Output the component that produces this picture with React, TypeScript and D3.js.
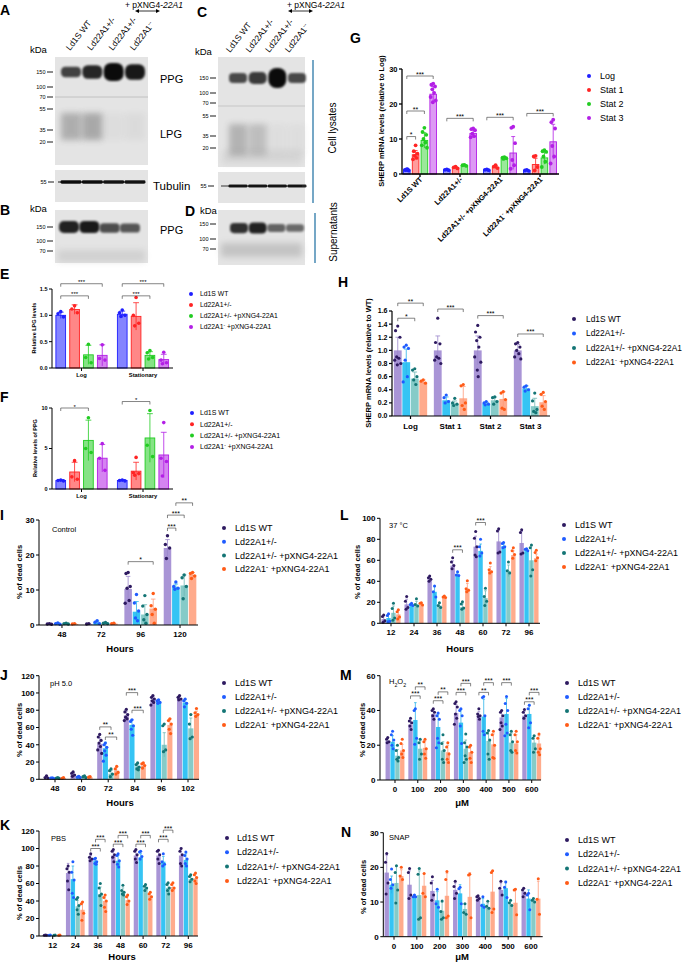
import React from 'react';
import * as d3 from 'd3';

const FONT = '"Liberation Sans", Arial, Helvetica, sans-serif';

// ---------- labels ----------
const strains = ['Ld1S WT', 'Ld22A1+/-', 'Ld22A1+/- +pXNG4-22A1', 'Ld22A1^- +pXNG4-22A1'];
const stages = ['Log', 'Stat 1', 'Stat 2', 'Stat 3'];
const growth = ['Log', 'Stationary'];
const laneNames = ['Ld1S WT', 'Ld22A1+/-', 'Ld22A1+/-', 'Ld22A1^-^-'];

// ---------- colours ----------
const gfCol = ['#1f1fff', '#ff2424', '#22cc22', '#b31fe6'];
const hnDot = ['#2e1a60', '#1f5cff', '#147575', '#ff5b17'];
const hnFill = ['#a995d6', '#36c4f4', '#86cbc8', '#ffab8c'];
const hnErr = ['#9a86cc', '#2fb5ea', '#6fb9b6', '#ff9a78'];

// each bar: [mean, sd, ...points]
type Bar = number[];
// [group, seriesA, seriesB, value, label]
type Bracket = [number, number, number, number, string];

// ---------- blots ----------
const kdaLys = [150, 100, 70, 55, 35, 20];
const kdaSup = [150, 100, 70];
const ppgA = [0.6, 0.8, 1, 0.9];
const lpgA = [0.5, 0.55, 0.06, 0.08];
const tubA = [0.9, 0.9, 0.85, 0.85];
const ppgB = [0.85, 0.9, 0.55, 0.5];
const ppgC = [0.55, 0.65, 1, 0.55];
const lpgC = [0.45, 0.35, 0.05, 0.05];
const tubC = [0.85, 0.85, 0.85, 0.85];
const ppgD = [0.75, 0.85, 0.4, 0.35];

// ---------- G ----------
const gData: Bar[][] = [
  [[1.2, 0.2, 1.4, 1.2, 1.0, 1.1, 1.3], [5.5, 1.2, 8.2, 6.5, 5.8, 5.2, 4.6, 4.2], [9.6, 2.2, 13.2, 12.0, 11.2, 10.0, 9.0, 8.2, 7.5], [22.8, 2.2, 25.8, 25.5, 25.0, 24.2, 23.2, 22.0, 21.0, 20.5]],
  [[1.2, 0.2, 1.3, 1.2, 1.1], [1.8, 0.3, 2.1, 1.9, 1.6], [2.4, 0.2, 2.6, 2.5, 2.3], [11.6, 1.2, 13.0, 12.8, 12.5, 11.5, 10.8, 10.5]],
  [[1.2, 0.2, 1.3, 1.2, 1.1], [1.9, 0.4, 2.5, 2.1, 1.7], [4.5, 0.3, 4.8, 4.7, 4.5, 4.3], [6.0, 4.7, 13.5, 13.2, 8.8, 4.0, 2.5, 1.5]],
  [[1.0, 0.2, 1.2, 1.0, 0.9], [2.7, 1.8, 5.2, 5.0, 2.0, 1.0], [4.6, 1.8, 6.8, 6.5, 6.3, 5.0, 3.5, 2.0], [9.2, 5.0, 15.5, 14.8, 13.0, 8.0, 5.0, 3.0]],
];
const gBr: Bracket[] = [[0, 0, 1, 10.7, '*'], [0, 0, 2, 18, '**'], [0, 0, 3, 28, '***'], [1, 0, 3, 15.9, '***'], [2, 0, 3, 16.2, '***'], [3, 0, 3, 17.3, '***']];

// ---------- E ----------
const eData: Bar[][] = [
  [[1.0, 0.06, 1.07, 1.03, 0.97], [1.11, 0.09, 1.18, 1.12, 1.05], [0.25, 0.18, 0.45, 0.2, 0.1], [0.24, 0.2, 0.44, 0.18, 0.15]],
  [[1.02, 0.06, 1.1, 1.05, 1.0, 0.98], [0.98, 0.26, 1.34, 1.0, 0.85, 0.8], [0.24, 0.07, 0.33, 0.29, 0.2, 0.17], [0.16, 0.1, 0.3, 0.15, 0.1, 0.08]],
];
const eBr: Bracket[] = [[0, 0, 2, 1.37, '***'], [0, 0, 3, 1.6, '***'], [1, 0, 2, 1.37, '***'], [1, 0, 3, 1.6, '***']];

// ---------- F ----------
const fData: Bar[][] = [
  [[1.05, 0.1, 1.1, 1.05, 1.0], [2.1, 1.2, 3.5, 1.5, 1.2], [6.0, 2.5, 8.8, 5.0, 4.5], [3.8, 1.7, 5.6, 3.8, 2.3]],
  [[1.05, 0.1, 1.1, 1.05, 1.0], [2.2, 1.1, 3.9, 2.0, 1.9, 1.7], [6.3, 3.0, 9.7, 5.4, 4.0], [4.2, 2.8, 8.2, 3.8, 3.4, 1.6]],
];
const fBr: Bracket[] = [[0, 0, 2, 10.0, '*'], [1, 0, 2, 10.8, '*']];

// ---------- H ----------
const hTicks = [0, 0.2, 0.4, 0.6, 0.8, 1.0, 1.2, 1.4, 1.6];
const hData: Bar[][] = [
  [[1.0, 0.2, 1.37, 1.3, 1.2, 0.9, 0.88, 0.85, 0.8, 0.78], [0.82, 0.2, 1.08, 1.05, 1.03, 0.85, 0.6, 0.52], [0.57, 0.1, 0.72, 0.7, 0.6, 0.55, 0.48], [0.52, 0.03, 0.55, 0.53, 0.5]],
  [[1.0, 0.22, 1.49, 1.12, 1.1, 0.9, 0.88, 0.85, 0.8], [0.24, 0.05, 0.32, 0.28, 0.22, 0.2], [0.19, 0.04, 0.27, 0.2, 0.18, 0.16], [0.27, 0.18, 0.48, 0.46, 0.2, 0.16, 0.1]],
  [[1.0, 0.22, 1.38, 1.28, 1.2, 1.15, 1.05, 0.9, 0.82, 0.7, 0.6], [0.19, 0.02, 0.22, 0.2, 0.18, 0.17], [0.24, 0.05, 0.29, 0.28, 0.22, 0.18], [0.26, 0.11, 0.37, 0.35, 0.25, 0.12, 0.1]],
  [[1.0, 0.09, 1.12, 1.1, 1.05, 1.0, 0.95, 0.9, 0.87], [0.42, 0.04, 0.46, 0.44, 0.4, 0.38], [0.15, 0.12, 0.35, 0.23, 0.1, 0.07, 0.05], [0.21, 0.1, 0.36, 0.33, 0.22, 0.15, 0.1]],
];
const hBr: Bracket[] = [[0, 0, 2, 1.49, '*'], [0, 0, 3, 1.72, '**'], [1, 0, 3, 1.63, '***'], [2, 0, 3, 1.53, '***'], [3, 0, 3, 1.25, '***']];

// ---------- I ----------
const iGroups = ['48', '72', '96', '120'];
const iData: Bar[][] = [
  [[0.3, 0.1, 0.4, 0.3, 0.2], [0.4, 0.2, 0.6, 0.4, 0.2], [0.4, 0.1, 0.5, 0.4, 0.3], [0.3, 0.1, 0.4, 0.3]],
  [[0.3, 0.1, 0.4, 0.3], [0.7, 0.4, 1.2, 0.8, 0.4], [0.5, 0.2, 0.7, 0.5, 0.4], [0.4, 0.1, 0.5, 0.4]],
  [[10.3, 3.6, 15.0, 14.7, 11.0, 10.5, 7.0, 6.2], [3.8, 2.9, 8.7, 6.3, 4.0, 2.0, 1.2], [3.0, 2.8, 8.4, 5.4, 3.0, 1.5, 0.5], [4.7, 2.7, 9.0, 5.5, 4.5, 3.0, 0.5]],
  [[22.0, 2.4, 25.5, 23.0, 22.0, 19.0], [10.8, 0.9, 12.3, 11.0, 10.5, 10.2], [11.3, 3.0, 14.3, 13.5, 11.0, 7.5], [14.3, 0.7, 15.0, 14.7, 14.0, 13.3]],
];
const iBr: Bracket[] = [[2, 0, 3, 18.1, '*'], [3, 0, 1, 27.7, '***'], [3, 0, 2, 31.4, '***'], [3, 1, 3, 34.9, '**']];

// ---------- L ----------
const lGroups = ['12', '24', '36', '48', '60', '72', '96'];
const lData: Bar[][] = [
  [[4.0, 3.5, 8.0, 6.5, 2.5, 1.0], [5.0, 3.8, 9.0, 7.5, 2.0, 1.5], [10.0, 6.5, 19.0, 14.0, 5.0, 3.0], [8.5, 4.0, 13.0, 11.0, 6.0, 4.0]],
  [[18.0, 5.0, 25.5, 21.0, 15.0, 13.5], [17.5, 1.0, 19.0, 18.0, 17.0], [18.0, 3.0, 23.5, 18.0, 16.5], [18.0, 1.2, 19.5, 19.0, 17.5]],
  [[42.0, 2.0, 45.0, 43.5, 42.0, 40.0], [30.0, 5.0, 35.5, 30.0, 25.0], [17.0, 2.5, 19.5, 17.0, 15.0], [25.0, 1.0, 26.0, 25.0, 24.5]],
  [[55.0, 4.5, 62.5, 58.5, 55.0, 52.0], [46.0, 2.0, 49.0, 46.0, 45.5], [15.5, 3.0, 20.5, 18.5, 14.5, 13.5], [33.0, 5.0, 40.5, 33.0, 31.5, 30.0]],
  [[73.0, 10.0, 87.5, 81.0, 73.0, 65.0, 63.5], [69.0, 6.5, 80.0, 73.0, 67.0, 64.0], [24.0, 7.0, 33.5, 25.5, 21.0, 17.0], [50.0, 4.0, 57.5, 51.0, 49.0, 48.0]],
  [[78.0, 10.5, 90.0, 88.0, 68.0, 67.0], [73.5, 2.0, 77.0, 76.0, 73.0, 72.0], [50.0, 5.5, 58.5, 50.0, 48.0], [65.0, 4.0, 72.0, 69.0, 65.5, 62.0]],
  [[76.5, 11.0, 89.0, 86.5, 67.0, 66.0], [70.0, 1.0, 71.0, 70.5, 69.0], [60.0, 14.0, 74.5, 72.0, 51.0, 45.0], [62.0, 4.0, 69.5, 67.5, 62.5, 59.5]],
];
const lBr: Bracket[] = [[3, 0, 2, 70, '***'], [4, 0, 2, 96, '***']];

// ---------- J ----------
const jGroups = ['48', '60', '72', '84', '96', '102'];
const jData: Bar[][] = [
  [[2.5, 1.2, 4.0, 2.0, 1.5], [1.5, 0.3, 1.8, 1.5, 1.2], [1.5, 0.4, 2.0, 1.5, 1.0], [1.5, 0.4, 2.0, 1.2]],
  [[6.0, 2.0, 8.5, 7.0, 5.0, 3.5], [3.0, 0.6, 3.5, 2.5, 2.0], [3.0, 0.8, 4.0, 3.0, 2.0], [2.5, 0.4, 3.0, 2.5]],
  [[41.0, 7.0, 52.0, 49.0, 45.0, 42.0, 38.0, 34.0, 30.0], [36.0, 7.0, 42.0, 40.0, 37.0, 33.0, 28.0, 21.0], [6.5, 4.0, 12.0, 10.0, 6.0, 3.0], [10.0, 4.0, 15.0, 12.0, 8.0, 6.0]],
  [[74.0, 5.0, 81.0, 78.0, 75.0, 72.0, 70.0, 68.0], [63.0, 6.0, 69.0, 67.0, 62.0, 58.0, 51.0], [15.0, 3.0, 19.0, 17.0, 14.0, 12.0, 11.0], [16.0, 2.5, 19.0, 18.0, 16.0, 13.0]],
  [[92.0, 3.5, 97.0, 95.0, 93.0, 91.0, 89.0, 86.0], [90.0, 2.0, 92.0, 91.0, 89.0, 88.0], [40.0, 14.0, 64.0, 62.0, 34.0, 32.0], [63.0, 7.0, 70.0, 68.0, 64.0, 58.0, 53.0]],
  [[94.0, 2.0, 97.0, 95.0, 93.0, 92.0], [89.0, 3.5, 93.0, 91.0, 88.0, 84.0], [59.0, 12.0, 75.0, 64.0, 49.0, 47.0], [75.0, 4.0, 82.0, 77.0, 75.0, 73.0]],
];
const jBr: Bracket[] = [[2, 0, 2, 60.7, '**'], [2, 1, 3, 49, '**'], [3, 0, 2, 100.4, '***'], [3, 1, 3, 80, '***']];

// ---------- M ----------
const uMGroups = ['0', '100', '200', '300', '400', '500', '600'];
const mData: Bar[][] = [
  [[22.5, 1.5, 24.5, 23.5, 22.0, 21.5], [22.0, 3.5, 28.0, 26.0, 23.0, 20.0, 18.0], [14.0, 3.5, 20.0, 17.0, 13.0, 12.0, 11.0], [17.0, 3.5, 23.5, 21.0, 17.0, 15.0, 13.0]],
  [[32.0, 2.5, 35.5, 34.0, 33.0, 31.0, 29.0], [34.5, 10.0, 41.0, 40.0, 24.0, 20.5], [18.0, 4.5, 23.5, 21.5, 15.0, 12.0], [18.5, 4.0, 23.5, 22.0, 18.0, 15.0, 12.5]],
  [[38.0, 2.5, 41.0, 40.0, 39.0, 37.0, 35.0], [30.5, 7.5, 38.5, 37.0, 35.0, 24.0, 21.5, 18.5], [17.0, 5.0, 26.0, 21.0, 17.0, 12.0, 10.0], [16.0, 4.0, 21.5, 19.0, 15.0, 12.0, 10.0]],
  [[38.5, 5.0, 45.0, 44.0, 42.0, 38.0, 35.5, 32.0], [33.0, 7.5, 41.0, 40.0, 37.0, 31.0, 21.0], [18.0, 5.0, 26.5, 21.5, 19.0, 14.0, 12.0, 10.0], [16.0, 3.5, 20.0, 19.0, 16.0, 12.5, 10.0]],
  [[37.0, 2.5, 41.0, 38.0, 37.0, 36.5, 35.0], [36.5, 10.0, 48.0, 47.5, 37.0, 28.0, 26.0], [22.5, 6.0, 28.5, 27.0, 23.0, 15.0, 12.0], [20.5, 6.0, 28.0, 26.0, 20.0, 13.0, 12.5]],
  [[36.0, 4.0, 40.0, 39.0, 37.0, 33.0, 31.0, 29.0], [38.0, 9.0, 48.0, 44.0, 40.0, 32.0, 27.0, 25.5], [21.5, 5.5, 28.0, 26.0, 22.0, 17.0, 16.0], [21.0, 5.0, 28.0, 26.0, 22.0, 17.0, 15.5]],
  [[37.0, 2.5, 40.5, 39.0, 37.0, 35.5], [38.0, 5.5, 43.0, 41.0, 33.0, 30.0], [21.5, 4.0, 25.5, 24.0, 18.0, 16.0], [21.0, 4.5, 26.5, 24.0, 18.0, 16.0, 14.5]],
];
const mBr: Bracket[] = [[1, 0, 2, 48.4, '***'], [1, 1, 3, 53.6, '**'], [2, 0, 2, 45.6, '***'], [2, 1, 3, 50.7, '**'], [3, 0, 2, 50.4, '***'], [3, 1, 3, 55.6, '***'], [4, 0, 2, 50.4, '**'], [4, 1, 3, 56, '***'], [5, 0, 2, 56, '***'], [6, 0, 2, 45, '***'], [6, 1, 3, 50.4, '***']];

// ---------- K ----------
const kGroups = ['12', '24', '36', '48', '60', '72', '96'];
const kData: Bar[][] = [
  [[1.0, 0.2, 1.2, 1.0, 0.8], [1.0, 0.2, 1.2, 1.0], [1.0, 0.2, 1.2, 1.0], [1.0, 0.2, 1.2, 1.0]],
  [[72.0, 11.0, 80.0, 77.0, 73.0, 63.0, 53.0], [65.0, 15.0, 85.0, 73.0, 64.0, 49.0, 44.0], [34.0, 7.0, 44.0, 42.0, 35.0, 30.0, 25.0], [30.0, 9.0, 39.0, 37.0, 26.0, 18.0]],
  [[89.0, 3.0, 94.0, 90.0, 88.0, 86.0], [86.0, 3.0, 89.0, 88.0, 85.0, 83.0, 82.0], [48.0, 8.0, 60.0, 55.0, 48.0, 46.0, 35.0], [40.0, 7.0, 47.0, 44.0, 40.0, 33.0, 28.0]],
  [[92.0, 5.0, 99.0, 97.0, 93.0, 90.0, 85.0], [86.0, 6.0, 94.0, 92.0, 86.0, 82.0, 79.0], [51.0, 4.0, 58.0, 52.0, 50.0, 48.0, 47.0], [41.0, 5.0, 47.0, 45.0, 40.0, 36.0]],
  [[92.0, 6.0, 99.0, 97.0, 93.0, 88.0, 84.0], [90.0, 4.0, 97.0, 96.0, 91.0, 88.0], [55.0, 3.0, 59.0, 57.0, 55.0, 52.0], [46.0, 4.0, 50.0, 48.0, 45.0, 42.0]],
  [[92.0, 6.0, 98.0, 97.0, 93.0, 88.0, 83.0], [85.0, 6.0, 94.0, 85.0, 82.0, 80.0], [55.0, 5.0, 61.0, 59.0, 55.0, 52.0, 48.0], [56.0, 4.0, 61.0, 59.0, 55.0, 52.0]],
  [[92.0, 9.0, 100.0, 97.0, 93.0, 83.0, 80.0], [87.0, 7.0, 96.0, 92.0, 88.0, 83.0, 80.0], [65.0, 3.0, 70.0, 68.0, 65.0, 62.0], [66.0, 5.0, 72.0, 70.0, 67.0, 63.0, 60.0]],
];
const kBr: Bracket[] = [[2, 0, 2, 100, '***'], [2, 1, 3, 110.5, '***'], [3, 0, 2, 105, '***'], [3, 1, 3, 115, '***'], [4, 0, 2, 105, '***'], [4, 1, 3, 115, '***'], [5, 0, 2, 110.5, '***'], [5, 1, 3, 121, '***']];

// ---------- N ----------
const nData: Bar[][] = [
  [[18.5, 5.0, 24.0, 21.5, 15.5, 12.3], [15.0, 2.5, 19.5, 16.5, 15.0, 14.0], [15.5, 5.0, 20.5, 18.5, 13.5, 9.7], [17.5, 1.8, 20.0, 17.5, 16.5]],
  [[15.0, 4.0, 19.7, 18.5, 12.0, 11.0], [11.7, 0.4, 12.0, 11.5, 11.5], [12.0, 7.0, 19.7, 18.0, 5.5, 5.0], [14.7, 3.5, 18.2, 12.5, 11.5]],
  [[13.2, 3.0, 17.3, 15.5, 12.0, 10.5], [10.5, 2.5, 13.7, 9.5, 8.5], [7.5, 2.5, 10.3, 7.3, 5.5, 5.0], [11.8, 6.5, 18.8, 16.5, 6.0, 5.5]],
  [[13.5, 2.0, 16.0, 14.5, 12.5, 11.0], [12.5, 2.5, 14.3, 13.8, 9.5], [8.0, 1.5, 9.5, 7.0, 6.5], [11.5, 7.0, 18.0, 17.8, 5.5]],
  [[11.0, 0.5, 11.8, 11.5, 11.0, 10.5], [9.5, 1.5, 11.5, 9.0, 8.5], [8.5, 1.0, 10.2, 8.8, 8.2], [13.0, 6.0, 19.0, 18.5, 8.0, 7.0]],
  [[13.5, 2.0, 16.0, 14.0, 12.0], [14.0, 2.0, 15.8, 14.3, 11.3], [9.5, 0.8, 10.5, 9.8, 9.0], [9.8, 4.0, 13.7, 13.5, 6.3]],
  [[13.0, 1.0, 14.0, 13.5, 12.5, 11.5], [11.0, 2.5, 12.5, 12.0, 7.8], [10.5, 0.6, 11.0, 10.5, 10.0], [11.0, 5.0, 16.7, 10.8, 6.5]],
];

// ---------- helpers ----------
function rich(s: string): React.ReactNode[] {
  return s.split(/([\^_].)/).filter((p) => p !== '').map((p, k) =>
    p.length === 2 && (p[0] === '^' || p[0] === '_')
      ? <tspan key={k} baselineShift={p[0] === '^' ? 'super' : 'sub'} fontSize="70%">{p[1]}</tspan>
      : <tspan key={k}>{p}</tspan>);
}

const JIT = [0, -1, 1, -0.5, 0.5, -1.4, 1.4, -0.2, 0.2, -0.8, 0.8];

interface Legend { x: number; tx: number; y: number; step: number; font: number; labels: string[]; colors: string[]; r?: number }

interface PanelProps {
  ax: [number, number];
  band: [number, number];
  yPix: [number, number];
  domain: [number, number];
  ticks: number[];
  fmt: (v: number) => string;
  groups: string[];
  data: Bar[][];
  fills: string[];
  dots: string[];
  errs: string[];
  strokes?: string[];
  fillOpacity?: number;
  brackets?: Bracket[];
  gPad: number;
  iPad: number;
  dotR: number;
  tickFont: number;
  catFont: number;
  catDy: number;
  rotate?: boolean;
  sigFont: number;
  yTitle: string;
  yTitlePos: [number, number];
  yTitleFont: number;
  xTitle?: string;
  xTitlePos?: [number, number];
  note?: string;
  notePos?: [number, number];
  legend: Legend;
  axisW?: number;
}

function BarPanel(p: PanelProps) {
  const y = d3.scaleLinear().domain(p.domain).range(p.yPix);
  const gx = d3.scaleBand<number>().domain(d3.range(p.groups.length)).range(p.band)
    .paddingInner(p.gPad).paddingOuter(p.gPad / 2);
  const sx = d3.scaleBand<number>().domain(d3.range(p.data[0].length)).range([0, gx.bandwidth()])
    .paddingInner(p.iPad).paddingOuter(p.iPad / 2);
  const bw = sx.bandwidth();
  const cx = (g: number, s: number) => (gx(g) ?? 0) + (sx(s) ?? 0) + bw / 2;
  const y0 = y(p.domain[0]);
  const top = y(p.ticks[p.ticks.length - 1]);
  const aw = p.axisW ?? 1;
  const lg = p.legend;
  return (
    <g fontFamily={FONT}>
      {p.data.map((grp, g) => grp.map((b, s) => {
        const c = cx(g, s);
        return <rect key={`b${g}-${s}`} x={c - bw / 2} y={y(b[0])} width={bw} height={y0 - y(b[0])}
          fill={p.fills[s]} fillOpacity={p.fillOpacity ?? 1}
          stroke={p.strokes ? p.strokes[s] : 'none'} strokeWidth={0.9} />;
      }))}
      {p.data.map((grp, g) => grp.map((b, s) => {
        const [m, sd, ...pts] = b;
        const c = cx(g, s);
        const lo = Math.max(p.domain[0], m - sd);
        return (
          <g key={`e${g}-${s}`}>
            <line x1={c} x2={c} y1={y(lo)} y2={y(m + sd)} stroke={p.errs[s]} strokeWidth={0.8} />
            <line x1={c - bw * 0.3} x2={c + bw * 0.3} y1={y(m + sd)} y2={y(m + sd)} stroke={p.errs[s]} strokeWidth={0.8} />
            {pts.map((v, k) => (
              <circle key={k} cx={c + JIT[k % JIT.length] * bw * 0.28} cy={y(v)} r={p.dotR} fill={p.dots[s]} />
            ))}
          </g>
        );
      }))}
      {/* axes */}
      <line x1={p.ax[0]} x2={p.ax[0]} y1={y0} y2={top} stroke="#000" strokeWidth={aw} />
      {p.ticks.map((t) => (
        <g key={t}>
          <line x1={p.ax[0] - 3} x2={p.ax[0]} y1={y(t)} y2={y(t)} stroke="#000" strokeWidth={aw} />
          <text x={p.ax[0] - 4.5} y={y(t)} dy="0.35em" textAnchor="end" fontSize={p.tickFont} fontWeight="bold">{p.fmt(t)}</text>
        </g>
      ))}
      <line x1={p.ax[0]} x2={p.ax[1]} y1={y0} y2={y0} stroke="#000" strokeWidth={aw} />
      {p.groups.map((name, g) => {
        const c = (gx(g) ?? 0) + gx.bandwidth() / 2;
        return (
          <g key={name + g}>
            <line x1={c} x2={c} y1={y0} y2={y0 + 3} stroke="#000" strokeWidth={aw} />
            {p.rotate
              ? <text transform={`translate(${c + 3},${y0 + 6}) rotate(-45)`} textAnchor="end" fontSize={p.catFont} fontWeight="bold">{rich(name)}</text>
              : <text x={c} y={y0 + p.catDy} textAnchor="middle" fontSize={p.catFont} fontWeight="bold">{name}</text>}
          </g>
        );
      })}
      {/* significance */}
      {(p.brackets ?? []).map(([g, a, b, v, lab], k) => {
        const xa = cx(g, a);
        const xb = cx(g, b);
        const yv = y(v);
        return (
          <g key={`s${k}`}>
            <path d={`M${xa},${yv + 3}V${yv}H${xb}V${yv + 3}`} fill="none" stroke="#333" strokeWidth={0.6} />
            <text x={(xa + xb) / 2} y={yv + 0.5} textAnchor="middle" fontSize={p.sigFont}>{lab}</text>
          </g>
        );
      })}
      <text transform={`translate(${p.yTitlePos[0]},${p.yTitlePos[1]}) rotate(-90)`} textAnchor="middle"
        fontSize={p.yTitleFont} fontWeight="bold">{p.yTitle}</text>
      {p.xTitle && p.xTitlePos && (
        <text x={p.xTitlePos[0]} y={p.xTitlePos[1]} textAnchor="middle" fontSize={9.5} fontWeight="bold">{p.xTitle}</text>
      )}
      {p.note && p.notePos && (
        <text x={p.notePos[0]} y={p.notePos[1]} fontSize={7.5}>{rich(p.note)}</text>
      )}
      {lg.labels.map((l, i) => {
        const yy = lg.y + i * lg.step;
        return (
          <g key={`l${i}`}>
            <circle cx={lg.x} cy={yy} r={lg.r ?? 2} fill={lg.colors[i]} />
            <text x={lg.tx} y={yy} dy="0.35em" fontSize={lg.font}>{rich(l)}</text>
          </g>
        );
      })}
    </g>
  );
}

function Band({ cx, cy, w, h, o, blur = 'b1' }: { cx: number; cy: number; w: number; h: number; o: number; blur?: string }) {
  return <rect x={cx - w / 2} y={cy - h / 2} width={w} height={h} rx={h / 2.5} fill="#000" opacity={o} filter={`url(#${blur})`} />;
}

function Markers({ x, kdas, scale }: { x: number; kdas: number[]; scale: (k: number) => number }) {
  return (
    <g>
      {kdas.map((k) => (
        <g key={k}>
          <line x1={x} x2={x + 6} y1={scale(k)} y2={scale(k)} stroke="#000" strokeWidth={0.9} />
          <text x={x - 1.5} y={scale(k)} dy="0.35em" textAnchor="end" fontSize={5.5}>{k}</text>
        </g>
      ))}
    </g>
  );
}

function Arrow({ x1, x2, y }: { x1: number; x2: number; y: number }) {
  return (
    <g stroke="#000" strokeWidth={0.8} fill="#000">
      <line x1={x1 + 2} x2={x2 - 2} y1={y} y2={y} />
      <path d={`M${x1},${y}l4,-2v4z`} stroke="none" />
      <path d={`M${x2},${y}l-4,-2v4z`} stroke="none" />
    </g>
  );
}

function LaneLabels({ xs, y }: { xs: number[]; y: number }) {
  return (
    <g>
      {laneNames.map((n, i) => (
        <text key={i} transform={`translate(${xs[i]},${y}) rotate(-52)`} fontSize={8.5}>{rich(n)}</text>
      ))}
    </g>
  );
}

function Plasmid({ x, ax }: { x: number; ax: number }) {
  return (
    <g>
      <text x={x} y={8} fontSize={8.5}>+ pXNG4-<tspan fontStyle="italic">22A1</tspan></text>
      <Arrow x1={ax} x2={ax + 25} y={11} />
    </g>
  );
}

const Letter = ({ x, y, t }: { x: number; y: number; t: string }) => (
  <text x={x} y={y} fontSize={14} fontWeight="bold">{t}</text>
);

export default function App() {
  const lanes = d3.range(4);
  const laneA = d3.scalePoint<number>().domain(lanes).range([71, 135]);
  const laneB = d3.scalePoint<number>().domain(lanes).range([69, 130]);
  const laneC = d3.scalePoint<number>().domain(lanes).range([238, 297]);
  const laneD = d3.scalePoint<number>().domain(lanes).range([239, 295]);
  const kA = d3.scaleLinear().domain(kdaLys).range([72, 87, 97, 109, 130, 142]);
  const kB = d3.scaleLinear().domain(kdaSup).range([227, 241, 251]);
  const kC = d3.scaleLinear().domain(kdaLys).range([78, 93, 103, 116, 136, 148]);
  const kD = d3.scaleLinear().domain(kdaSup).range([224, 239, 249]);
  const tubAy = (k: number) => 182 + (k - 55);
  const tubCy = (k: number) => 186 + (k - 55);
  const la = (i: number) => laneA(i) ?? 0;
  const lb = (i: number) => laneB(i) ?? 0;
  const lc = (i: number) => laneC(i) ?? 0;
  const ld = (i: number) => laneD(i) ?? 0;
  const f1 = d3.format('.1f');
  const str = (v: number) => String(v);
  const hn = { fills: hnFill, dots: hnDot, errs: hnErr, gPad: 0.15, iPad: 0.1, dotR: 1.7, tickFont: 8, catFont: 8, catDy: 12, sigFont: 7, yTitle: '% of dead cells', yTitleFont: 7.5 };
  const hnLeg = { labels: strains, colors: hnDot, font: 9 };
  const t120 = [0, 20, 40, 60, 80, 100, 120];

  return (
    <div style={{ position: 'absolute', left: 0, top: 0 }}>
      <svg width={685} height={964} viewBox="0 0 685 964" style={{ display: 'block', background: '#fff' }} fontFamily={FONT}>
        <defs>
          <filter id="b1" x="-50%" y="-50%" width="200%" height="200%"><feGaussianBlur stdDeviation="1.3" /></filter>
          <filter id="b0" x="-50%" y="-50%" width="200%" height="200%"><feGaussianBlur stdDeviation="0.6" /></filter>
          <filter id="b3" x="-50%" y="-50%" width="200%" height="200%"><feGaussianBlur stdDeviation="3" /></filter>
        </defs>
        <rect width={685} height={964} fill="#fff" />

        {/* ---------- A / B ---------- */}
        <Letter x={0} y={15} t="A" />
        <Plasmid x={125} ax={135} />
        <LaneLabels xs={lanes.map((i) => la(i) - 1)} y={51} />
        <text x={30} y={53} fontSize={9.5}>kDa</text>
        <rect x={55} y={57} width={93} height={108} fill="#e4e4e4" />
        <line x1={55} x2={148} y1={kA(70)} y2={kA(70)} stroke="#aaa" strokeWidth={1} opacity={0.6} />
        {lanes.map((i) => (
          <rect key={`la${i}`} x={la(i) - 10} y={kA(55) + 4} width={20} height={kA(20) - kA(55) - 6}
            fill="#333" opacity={lpgA[i] * 0.6} filter="url(#b3)" />
        ))}
        {lanes.map((i) => <Band key={`pa${i}`} cx={la(i)} cy={kA(150)} w={20} h={6 + 12 * ppgA[i] ** 2} o={0.35 + 0.6 * ppgA[i]} />)}
        <Markers x={47} kdas={kdaLys} scale={kA} />
        <text x={160} y={83} fontSize={11}>PPG</text>
        <text x={160} y={138} fontSize={11}>LPG</text>
        <rect x={55} y={170} width={93} height={32} fill="#e4e4e4" />
        <line x1={58} x2={145} y1={tubAy(55)} y2={tubAy(55)} stroke="#222" strokeWidth={1.5} opacity={0.7} />
        {lanes.map((i) => <Band key={`ta${i}`} cx={la(i)} cy={tubAy(55)} w={21} h={3.5} o={tubA[i]} blur="b0" />)}
        <Markers x={48} kdas={[55]} scale={tubAy} />
        <text x={153} y={190} fontSize={11.5}>Tubulin</text>

        <Letter x={0} y={215} t="B" />
        <text x={30} y={212} fontSize={9.5}>kDa</text>
        <rect x={55} y={210} width={93} height={53} fill="#e4e4e4" />
        <rect x={58} y={250} width={87} height={12} fill="#999" opacity={0.25} filter="url(#b3)" />
        {lanes.map((i) => <Band key={`pb${i}`} cx={lb(i)} cy={kB(150) + (ppgB[i] < 0.7 ? 1 : 0)} w={20} h={5 + 8 * ppgB[i]} o={0.3 + 0.65 * ppgB[i]} />)}
        <Markers x={47} kdas={kdaSup} scale={kB} />
        <text x={160} y={234} fontSize={11}>PPG</text>

        {/* ---------- C / D ---------- */}
        <Letter x={197} y={17} t="C" />
        <Plasmid x={287} ax={288} />
        <LaneLabels xs={lanes.map((i) => lc(i) - 8)} y={53} />
        <text x={195} y={55} fontSize={9.5}>kDa</text>
        <rect x={218} y={57} width={87} height={110} fill="#e4e4e4" />
        <line x1={218} x2={305} y1={kC(70) + 3} y2={kC(70) + 3} stroke="#aaa" strokeWidth={1} opacity={0.5} />
        {lanes.map((i) => (
          <rect key={`lc${i}`} x={lc(i) - 9} y={kC(55) + 8} width={18} height={kC(20) - kC(55)}
            fill="#333" opacity={lpgC[i] * 0.6} filter="url(#b3)" />
        ))}
        <rect x={222} y={150} width={80} height={14} fill="#999" opacity={0.18} filter="url(#b3)" />
        {lanes.map((i) => <Band key={`pc${i}`} cx={lc(i)} cy={kC(150)} w={18} h={6 + 14 * ppgC[i] ** 2} o={0.35 + 0.6 * ppgC[i]} />)}
        <Markers x={210} kdas={kdaLys} scale={kC} />
        <rect x={218} y={172} width={87} height={31} fill="#e4e4e4" />
        <line x1={221} x2={302} y1={tubCy(55)} y2={tubCy(55)} stroke="#222" strokeWidth={1.4} opacity={0.6} />
        {lanes.map((i) => <Band key={`tc${i}`} cx={lc(i)} cy={tubCy(55)} w={19} h={3.2} o={tubC[i]} blur="b0" />)}
        <Markers x={208} kdas={[55]} scale={tubCy} />

        <Letter x={185} y={216} t="D" />
        <text x={200} y={214} fontSize={9.5}>kDa</text>
        <rect x={218} y={210} width={87} height={55} fill="#e4e4e4" />
        <rect x={221} y={243} width={81} height={14} fill="#888" opacity={0.35} filter="url(#b3)" />
        {lanes.map((i) => <Band key={`pd${i}`} cx={ld(i)} cy={kD(150) + 4} w={18} h={5 + 7 * ppgD[i]} o={0.3 + 0.65 * ppgD[i]} />)}
        <Markers x={210} kdas={kdaSup} scale={kD} />

        <line x1={313} x2={313} y1={60} y2={203} stroke="#2b78a8" strokeWidth={1.3} />
        <line x1={315} x2={315} y1={213} y2={263} stroke="#2b78a8" strokeWidth={1.3} />
        <text transform="translate(336,128) rotate(-90)" textAnchor="middle" fontSize={10}>Cell lysates</text>
        <text transform="translate(337,232) rotate(-90)" textAnchor="middle" fontSize={10}>Supernatants</text>

        {/* ---------- G ---------- */}
        <Letter x={350} y={43} t="G" />
        <BarPanel ax={[402, 559]} band={[400, 560]} yPix={[174, 69]} domain={[0, 30]} ticks={[0, 10, 20, 30]} fmt={str}
          groups={strains} data={gData} fills={gfCol} fillOpacity={0.45} strokes={gfCol} dots={gfCol} errs={gfCol}
          brackets={gBr} gPad={0.12} iPad={0.25} dotR={1.9} tickFont={7.5} catFont={7.5} catDy={0} rotate sigFont={7}
          yTitle="SHERP mRNA levels (relative to Log)" yTitlePos={[384, 121]} yTitleFont={7.5} axisW={1.3}
          legend={{ x: 589, tx: 600, y: 76, step: 14, font: 9, labels: stages, colors: gfCol }} />

        {/* ---------- E ---------- */}
        <Letter x={0} y={279} t="E" />
        <BarPanel ax={[52, 173]} band={[50.75, 173.75]} yPix={[368, 289]} domain={[0, 1.5]} ticks={[0, 0.5, 1, 1.5]} fmt={f1}
          groups={growth} data={eData} fills={gfCol} fillOpacity={0.55} strokes={gfCol} dots={gfCol} errs={gfCol}
          brackets={eBr} gPad={0.1} iPad={0.3} dotR={1.8} tickFont={5.5} catFont={5.8} catDy={9} sigFont={6}
          yTitle="Relative LPG levels" yTitlePos={[36, 328]} yTitleFont={5.5}
          legend={{ x: 191, tx: 200, y: 294, step: 11, font: 6.8, labels: strains, colors: gfCol }} />

        {/* ---------- F ---------- */}
        <Letter x={0} y={402} t="F" />
        <BarPanel ax={[52, 173]} band={[50.75, 173.75]} yPix={[489, 408]} domain={[0, 10]} ticks={[0, 5, 10]} fmt={str}
          groups={growth} data={fData} fills={gfCol} fillOpacity={0.55} strokes={gfCol} dots={gfCol} errs={gfCol}
          brackets={fBr} gPad={0.1} iPad={0.3} dotR={1.8} tickFont={5.5} catFont={5.8} catDy={9} sigFont={6}
          yTitle="Relative levels of PPG" yTitlePos={[37, 448]} yTitleFont={5.5}
          legend={{ x: 192, tx: 200, y: 413, step: 11.3, font: 7, labels: strains, colors: gfCol }} />

        {/* ---------- H ---------- */}
        <Letter x={338} y={287} t="H" />
        <BarPanel ax={[392, 550]} band={[390.5, 550.5]} yPix={[416, 311]} domain={[0, 1.6]} ticks={hTicks} fmt={f1}
          groups={stages} data={hData} fills={hnFill} dots={hnDot} errs={hnErr}
          brackets={hBr} gPad={0.15} iPad={0.08} dotR={1.6} tickFont={7} catFont={8} catDy={13} sigFont={7}
          yTitle="SHERP mRNA levels (relative to WT)" yTitlePos={[371, 363]} yTitleFont={7.5} axisW={1.2}
          legend={{ x: 574, tx: 586, y: 319, step: 14.5, font: 8.4, labels: strains, colors: hnDot }} />

        {/* ---------- I ---------- */}
        <Letter x={0} y={520} t="I" />
        <BarPanel {...hn} ax={[39, 198]} band={[42.3, 199.7]} yPix={[625, 520]} domain={[0, 30]} ticks={[0, 10, 20, 30]} fmt={str}
          groups={iGroups} data={iData} brackets={iBr} yTitlePos={[22, 572]} xTitle="Hours" xTitlePos={[120, 652]}
          note="Control" notePos={[52, 532]} legend={{ ...hnLeg, x: 224, tx: 235, y: 528, step: 13.7 }} />

        {/* ---------- L ---------- */}
        <Letter x={340} y={520} t="L" />
        <BarPanel {...hn} ax={[380, 540]} band={[379.5, 540.5]} yPix={[623.3, 518.3]} domain={[0, 100]} ticks={[0, 20, 40, 60, 80, 100]} fmt={str}
          groups={lGroups} data={lData} brackets={lBr} dotR={1.5} yTitlePos={[360, 572]} xTitle="Hours" xTitlePos={[460, 652]}
          note="37 °C" notePos={[389, 528]} legend={{ ...hnLeg, x: 564, tx: 575, y: 525, step: 14 }} />

        {/* ---------- J ---------- */}
        <Letter x={0} y={680} t="J" />
        <BarPanel {...hn} ax={[39, 199]} band={[41.7, 201.3]} yPix={[779.3, 675.7]} domain={[0, 120]} ticks={t120} fmt={str}
          groups={jGroups} data={jData} brackets={jBr} dotR={1.6} yTitlePos={[22, 730]} xTitle="Hours" xTitlePos={[120, 806]}
          note="pH 5.0" notePos={[50, 686]} legend={{ ...hnLeg, x: 224, tx: 235, y: 683, step: 14 }} />

        {/* ---------- M ---------- */}
        <Letter x={340} y={680} t="M" />
        <BarPanel {...hn} ax={[380, 541]} band={[383.6, 543.1]} yPix={[780, 675.7]} domain={[0, 60]} ticks={[0, 20, 40, 60]} fmt={str}
          groups={uMGroups} data={mData} brackets={mBr} dotR={1.5} yTitlePos={[365, 730]} xTitle="μM" xTitlePos={[462, 806]}
          note="H_2O_2" notePos={[389, 684]} legend={{ ...hnLeg, x: 567, tx: 578, y: 683, step: 14 }} />

        {/* ---------- K ---------- */}
        <Letter x={0} y={830} t="K" />
        <BarPanel {...hn} ax={[39, 198]} band={[41.4, 199.6]} yPix={[936, 831]} domain={[0, 120]} ticks={t120} fmt={str}
          groups={kGroups} data={kData} brackets={kBr} dotR={1.5} yTitlePos={[22, 893]} xTitle="Hours" xTitlePos={[122, 960]}
          note="PBS" notePos={[51, 841]} legend={{ ...hnLeg, x: 227, tx: 237, y: 838, step: 14.3 }} />

        {/* ---------- N ---------- */}
        <Letter x={341} y={837} t="N" />
        <BarPanel {...hn} ax={[383.3, 542.7]} band={[382.6, 542.4]} yPix={[936.7, 832.7]} domain={[0, 30]} ticks={[0, 10, 20, 30]} fmt={str}
          groups={uMGroups} data={nData} dotR={1.5} yTitlePos={[366, 887]} xTitle="μM" xTitlePos={[462, 960]}
          note="SNAP" notePos={[389, 840]} legend={{ ...hnLeg, x: 567, tx: 578, y: 840, step: 14.3 }} />
      </svg>
    </div>
  );
}
